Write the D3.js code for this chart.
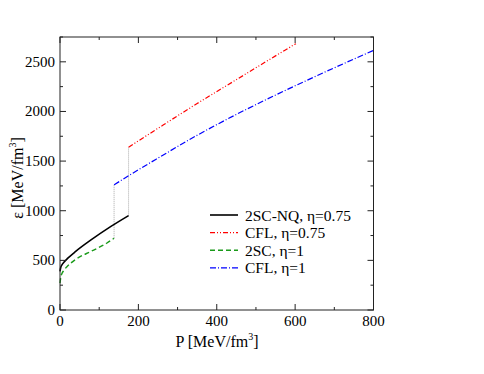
<!DOCTYPE html>
<html>
<head>
<meta charset="utf-8">
<script src="https://cdn.jsdelivr.net/npm/d3@7"></script>
<style>
  body { margin: 0; background: #fff; }
  svg text { font-family: 'Liberation Serif', 'Times New Roman', serif; }
</style>
</head>
<body>
<div id="chart"></div>
<script>
// values: [P, eps]
const nq2scEta075 = [[0, 388], [2, 430], [5, 455], [10, 482], [20, 522], [40, 590], [80, 708], [130, 842], [175, 951]]
const cflEta075 = [[175, 1640], [250, 1830], [350, 2080], [450, 2320], [550, 2560], [602, 2683]]
const sc2Eta1 = [[0, 270], [2, 330], [5, 368], [10, 400], [20, 445], [40, 510], [80, 592], [120, 675], [138, 723]]
const cflEta1 = [[138, 1261], [179, 1362], [250, 1530], [350, 1760], [450, 1970], [550, 2165], [650, 2350], [800, 2615]]
const jumps = [[[138, 723], [138, 1261]], [[175, 951], [175, 1640]]]

const xTicks = [0, 200, 400, 600, 800]
const yTicks = [0, 500, 1000, 1500, 2000, 2500]
const legendLabels = ['2SC-NQ, η=0.75', 'CFL, η=0.75', '2SC, η=1', 'CFL, η=1']

const W = 484, H = 374
const margin = { top: 37, right: 110, bottom: 64, left: 60 }

let svg = d3.select('#chart').append('svg').attr('width', W).attr('height', H)

let x = d3.scaleLinear().domain([0, 800]).range([margin.left, 373.5])
let y = d3.scaleLinear().domain([0, 2750]).range([310, margin.top])

let line = d3.line().x(d => x(d[0])).y(d => y(d[1]))

let series = [
  { data: nq2scEta075, color: '#000', dash: null, width: 1.6 },
  { data: cflEta075, color: '#ff0000', dash: '5,2,1,2,1,2', width: 1.2 },
  { data: sc2Eta1, color: '#1a9a1a', dash: '5,3', width: 1.4 },
  { data: cflEta1, color: '#0000ff', dash: '6,2,1,2', width: 1.2 }
]

// gray dotted transitions
jumps.forEach(j => {
  svg.append('path')
    .attr('d', line(j))
    .attr('fill', 'none')
    .attr('stroke', '#aaa')
    .attr('stroke-width', 1)
    .attr('stroke-dasharray', '1,1')
})

series.forEach(s => {
  svg.append('path')
    .attr('d', line.curve(d3.curveMonotoneX)(s.data))
    .attr('fill', 'none')
    .attr('stroke', s.color)
    .attr('stroke-width', s.width)
    .attr('stroke-dasharray', s.dash)
})

// frame + inward ticks on all four sides
let x0 = x.range()[0], x1 = x.range()[1], y0 = y.range()[0], y1 = y.range()[1]
svg.append('rect')
  .attr('x', x0).attr('y', y1)
  .attr('width', x1 - x0).attr('height', y0 - y1)
  .attr('fill', 'none').attr('stroke', '#222').attr('stroke-width', 1)

let xAll = d3.range(0, 801, 100)
let yAll = d3.range(0, 2751, 250)
let g = svg.append('g').attr('stroke', '#222').attr('stroke-width', 1)
xAll.forEach(v => {
  let len = v % 200 === 0 ? 6 : 3
  g.append('line').attr('x1', x(v)).attr('x2', x(v)).attr('y1', y0).attr('y2', y0 - len)
  g.append('line').attr('x1', x(v)).attr('x2', x(v)).attr('y1', y1).attr('y2', y1 + len)
})
yAll.forEach(v => {
  let len = v % 500 === 0 ? 6 : 3
  g.append('line').attr('x1', x0).attr('x2', x0 + len).attr('y1', y(v)).attr('y2', y(v))
  g.append('line').attr('x1', x1).attr('x2', x1 - len).attr('y1', y(v)).attr('y2', y(v))
})

svg.selectAll('.xt').data(xTicks).enter().append('text')
  .attr('x', d => x(d)).attr('y', 325.5)
  .attr('text-anchor', 'middle').attr('font-size', 15)
  .text(d => d)

svg.selectAll('.yt').data(yTicks).enter().append('text')
  .attr('x', 55).attr('y', d => y(d) + 5)
  .attr('text-anchor', 'end').attr('font-size', 15)
  .text(d => d)

// axis titles
let xt = svg.append('text').attr('x', 217).attr('y', 347)
  .attr('text-anchor', 'middle').attr('font-size', 16)
xt.append('tspan').text('P [MeV/fm')
xt.append('tspan').attr('font-size', 10).attr('dy', -7).text('3')
xt.append('tspan').attr('dy', 7).text(']')

let yt = svg.append('text').attr('transform', 'translate(23,' + 178 + ') rotate(-90)')
  .attr('text-anchor', 'middle').attr('font-size', 16)
yt.append('tspan').text('ε [MeV/fm')
yt.append('tspan').attr('font-size', 10).attr('dy', -7).text('3')
yt.append('tspan').attr('dy', 7).text(']')

// legend
let leg = svg.append('g').attr('transform', 'translate(210,215)')
series.forEach((s, i) => {
  let row = leg.append('g').attr('transform', `translate(0,${i * 17.6})`)
  row.append('line')
    .attr('x1', 0).attr('x2', 28).attr('y1', 0).attr('y2', 0)
    .attr('stroke', s.color).attr('stroke-width', s.width)
    .attr('stroke-dasharray', s.dash)
  row.append('text').attr('x', 35).attr('y', 5.5).attr('font-size', 15.5).text(legendLabels[i])
})
</script>
</body>
</html>
